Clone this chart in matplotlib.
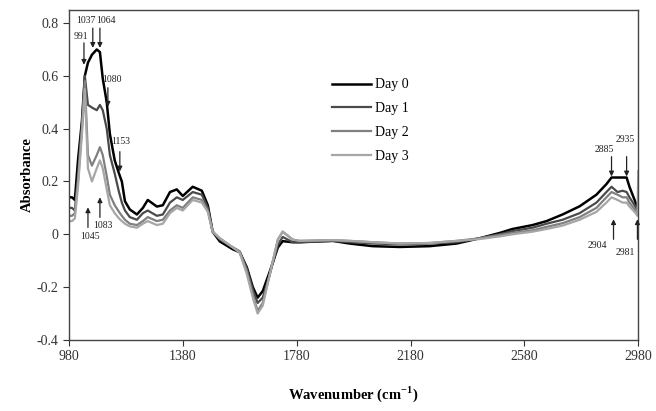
import matplotlib
matplotlib.use("Agg")
import matplotlib.pyplot as plt

plt.rcParams['font.family'] = ['Liberation Serif', 'DejaVu Serif']
plt.rcParams['mathtext.fontset'] = 'custom'
plt.rcParams['mathtext.rm'] = 'Liberation Serif'
plt.rcParams['mathtext.bf'] = 'Liberation Serif:bold'

# wavenumber grid (cm-1)
wavenumber = [980, 991, 1001, 1012, 1026, 1036, 1047, 1061, 1078, 1089, 1099, 1113, 1124, 1141,
              1156, 1166, 1177, 1194, 1219, 1240, 1257, 1289, 1310, 1335, 1359, 1380, 1415,
              1447, 1468, 1485, 1510, 1556, 1580, 1605, 1626, 1643, 1661, 1686, 1714, 1731,
              1766, 1791, 1907, 1966, 2047, 2142, 2247, 2342, 2423, 2493, 2538, 2609, 2658,
              2714, 2774, 2833, 2868, 2886, 2907, 2925, 2939, 2949, 2967, 2977, 2980]

day0 = [0.14, 0.14, 0.13, 0.28, 0.43, 0.60, 0.65, 0.68, 0.70, 0.69, 0.59, 0.50, 0.38, 0.28,
        0.23, 0.20, 0.125, 0.094, 0.075, 0.10, 0.13, 0.105, 0.11, 0.16, 0.17, 0.145, 0.18,
        0.165, 0.11, 0.01, -0.027, -0.057, -0.068, -0.125, -0.20, -0.24, -0.215, -0.14, -0.05, -0.026,
        -0.03, -0.03, -0.025, -0.035, -0.045, -0.048, -0.045, -0.035, -0.015, 0.005, 0.02, 0.035, 0.05,
        0.075, 0.106, 0.15, 0.19, 0.215, 0.215, 0.215, 0.215, 0.18, 0.13, 0.10, 0.09]

day1 = [0.10, 0.10, 0.09, 0.22, 0.42, 0.60, 0.49, 0.48, 0.47, 0.49, 0.47, 0.40, 0.30, 0.23,
        0.16, 0.12, 0.09, 0.065, 0.055, 0.08, 0.09, 0.07, 0.075, 0.12, 0.14, 0.13, 0.16,
        0.15, 0.10, 0.01, -0.02, -0.05, -0.065, -0.13, -0.21, -0.26, -0.24, -0.15, -0.04, -0.01,
        -0.03, -0.03, -0.025, -0.03, -0.035, -0.038, -0.035, -0.03, -0.015, 0.0, 0.012, 0.025, 0.04,
        0.055, 0.08, 0.12, 0.16, 0.18, 0.16, 0.165, 0.16, 0.14, 0.11, 0.09, 0.08]

day2 = [0.07, 0.07, 0.08, 0.20, 0.40, 0.58, 0.30, 0.26, 0.30, 0.33, 0.30, 0.22, 0.15, 0.11,
        0.085, 0.07, 0.055, 0.04, 0.035, 0.05, 0.065, 0.05, 0.055, 0.09, 0.11, 0.10, 0.14,
        0.13, 0.09, 0.01, -0.015, -0.05, -0.065, -0.14, -0.23, -0.29, -0.26, -0.15, -0.02, 0.01,
        -0.02, -0.025, -0.022, -0.025, -0.03, -0.035, -0.033, -0.025, -0.015, -0.003, 0.005, 0.015, 0.028,
        0.042, 0.065, 0.10, 0.14, 0.16, 0.15, 0.14, 0.14, 0.12, 0.095, 0.08, 0.075]

day3 = [0.05, 0.05, 0.06, 0.18, 0.38, 0.55, 0.25, 0.20, 0.25, 0.28, 0.25, 0.17, 0.11, 0.08,
        0.06, 0.05, 0.04, 0.03, 0.025, 0.04, 0.05, 0.035, 0.04, 0.08, 0.10, 0.09, 0.13,
        0.12, 0.085, 0.01, -0.015, -0.05, -0.07, -0.15, -0.24, -0.30, -0.27, -0.15, -0.02, 0.01,
        -0.02, -0.025, -0.022, -0.025, -0.03, -0.035, -0.033, -0.025, -0.018, -0.008, 0.0, 0.01, 0.02,
        0.033, 0.055, 0.085, 0.12, 0.14, 0.13, 0.12, 0.12, 0.105, 0.085, 0.07, 0.24]

series_names = ["Day 0", "Day 1", "Day 2", "Day 3"]
series_values = [day0, day1, day2, day3]
colors = ["#000000", "#4a4a4a", "#808080", "#a6a6a6"]
widths = [1.8, 1.6, 1.6, 1.6]

# peak annotations: label, arrow x, arrow tail y, arrow tip y, text x, text y
peak_labels = ["991", "1037", "1064", "1080", "1153", "1045", "1083", "2885", "2935", "2904", "2981"]
peak_x = [1033, 1064, 1089, 1117, 1159, 1047, 1089, 2886, 2939, 2893, 2977]
tail_y = [0.725, 0.781, 0.781, 0.555, 0.313, 0.026, 0.064, 0.294, 0.294, -0.019, -0.019]
tip_y = [0.642, 0.706, 0.706, 0.483, 0.238, 0.102, 0.140, 0.219, 0.219, 0.057, 0.057]
text_x = [1022, 1040, 1110, 1131, 1163, 1054, 1099, 2861, 2935, 2837, 2935]
text_y = [0.751, 0.811, 0.808, 0.585, 0.351, -0.008, 0.034, 0.321, 0.358, -0.042, -0.068]

fig = plt.figure(figsize=(6.56, 4.11), dpi=100)
ax = fig.add_axes([0.105, 0.173, 0.868, 0.803])

for name, vals, c, lw in zip(series_names, series_values, colors, widths):
    ax.plot(wavenumber, vals, color=c, lw=lw, label=name)

for lab, px, ty, py, tx, tyy in zip(peak_labels, peak_x, tail_y, tip_y, text_x, text_y):
    ax.annotate("", xy=(px, py), xytext=(px, ty),
                arrowprops=dict(arrowstyle='-|>', color='#222222', lw=0.9, mutation_scale=7,
                                shrinkA=0, shrinkB=0))
    ax.text(tx, tyy, lab, fontsize=7, ha='center', va='center', color='#222222')

ax.set_xlim(980, 2980)
ax.set_ylim(-0.4, 0.85)
ax.set_xticks([980, 1380, 1780, 2180, 2580, 2980])
ax.set_yticks([-0.4, -0.2, 0, 0.2, 0.4, 0.6, 0.8])
ax.set_yticklabels(["-0.4", "-0.2", "0", "0.2", "0.4", "0.6", "0.8"])
ax.tick_params(direction='out', length=4, width=0.8, labelsize=10, colors='#333333')
for s in ax.spines.values():
    s.set_color('#444444')
    s.set_linewidth(1.0)

ax.set_ylabel("Absorbance", fontsize=10.5, fontweight='bold', labelpad=2)
ax.set_xlabel(r"Wavenumber (cm$^{\mathbf{-1}}$)", fontsize=10.5, fontweight='bold', labelpad=15)

ax.legend(loc='upper left', bbox_to_anchor=(0.44, 0.83), frameon=False, fontsize=10,
          handlelength=2.8, labelspacing=0.78, handletextpad=0.3)

fig.savefig("out.png", dpi=100)
